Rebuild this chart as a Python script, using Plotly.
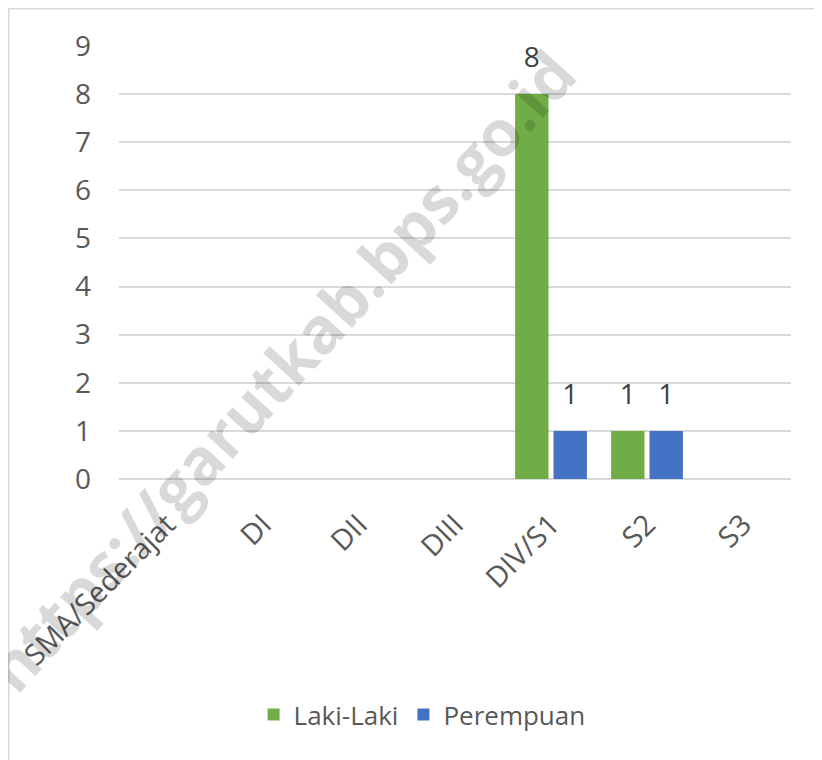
import plotly.graph_objects as go

# Data
categories = ["SMA/Sederajat", "DI", "DII", "DIII", "DIV/S1", "S2", "S3"]
laki_laki = [None, None, None, None, 8, 1, None]
perempuan = [None, None, None, None, 1, 1, None]
y_ticks = [0, 1, 2, 3, 4, 5, 6, 7, 8, 9]

FONT = "Open Sans"
GRID = "#d9d9d9"
series = [("Laki-Laki", laki_laki, "#70ad47"), ("Perempuan", perempuan, "#4472c4")]

fig = go.Figure()

for i, (name, vals, col) in enumerate(series):
    fig.add_trace(go.Bar(
        name=name, x=categories, y=vals, offsetgroup=str(i),
        marker=dict(color=col, line=dict(width=0)), hoverinfo="skip",
    ))

# data labels, placed over the bars with grouped scatter
for i, (name, vals, col) in enumerate(series):
    fig.add_trace(go.Scatter(
        x=categories, y=vals, offsetgroup=str(i), alignmentgroup="a",
        mode="markers+text", texttemplate="%{y}", textposition="top center",
        marker=dict(size=30, color="rgba(0,0,0,0)"),
        textfont=dict(family=FONT, size=28, color="#404040"),
        showlegend=False, cliponaxis=False, hoverinfo="skip",
    ))

fig.update_layout(
    width=814, height=752, autosize=False,
    margin=dict(l=111, r=31, t=38, b=281),
    paper_bgcolor="white", plot_bgcolor="white",
    barmode="group", bargap=0.2, bargroupgap=0.13,
    scattermode="group", scattergap=0.2,
    font=dict(family=FONT, size=28, color="#595959"),
    showlegend=True,
    legend=dict(orientation="h", x=0.451, xanchor="center", y=-0.544, yanchor="middle",
                font=dict(family=FONT, size=26, color="#595959"), itemwidth=30),
    xaxis=dict(tickangle=-45, showgrid=False, showline=False, automargin=False,
               ticks="outside", ticklen=16, tickcolor="rgba(0,0,0,0)",
               tickfont=dict(size=29)),
    yaxis=dict(range=[0, 9], tickvals=y_ticks, showgrid=True, gridcolor=GRID, gridwidth=1.5,
               zeroline=True, zerolinecolor=GRID, zerolinewidth=1.5,
               showline=False, ticks="", ticklabelstandoff=27, automargin=False),
    shapes=[dict(type="rect", xref="paper", yref="paper", x0=-0.164, x1=1.3, y0=-1.2, y1=1.086,
                 line=dict(color=GRID, width=1.5), fillcolor="rgba(0,0,0,0)", layer="below")],
    annotations=[dict(text="<b>https://garutkab.bps.go.id</b>", xref="paper", yref="paper",
                      x=0.24, y=0.25, xanchor="center", yanchor="middle",
                      showarrow=False, textangle=-47.7,
                      font=dict(family=FONT, size=64, color="rgba(0,0,0,0.15)"))],
)

fig.write_html("out.html")
